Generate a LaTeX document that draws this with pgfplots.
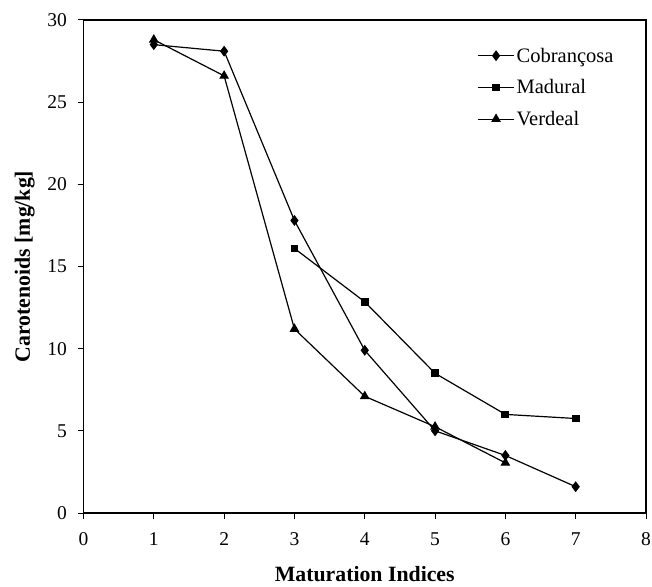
\documentclass[border=0pt]{standalone}
\usepackage{pgfplots}
\pgfplotsset{compat=1.18}
\usepackage{fontspec}
\setmainfont{Liberation Serif}

\begin{document}
\begin{tikzpicture}
\begin{axis}[
    name=main,
    scale only axis,
    width=562.5pt,
    height=493pt,
    xmin=0, xmax=8,
    ymin=0, ymax=30,
    xtick={0,1,...,8},
    ytick={0,5,...,30},
    tick align=outside,
    tick pos=left,
    major tick length=6pt,
    axis line style={line width=1.2pt},
    tick style={line width=1pt, black},
    every axis plot/.append style={line width=1.2pt, black},
    tick label style={font=\fontsize{19.5}{22}\selectfont},
    xticklabel style={yshift=-10pt},
    yticklabel style={xshift=-7pt},
    /pgf/number format/assume math mode=true,
    xlabel={\textbf{Maturation Indices}},
    ylabel={\textbf{Carotenoids [mg/kg]}},
    label style={font=\fontsize{21.8}{26}\selectfont},
    xlabel style={yshift=-14pt},
    ylabel style={yshift=6pt},
    legend style={draw=none, fill=none, at={(0.70,0.948)}, anchor=north west,
        font=\fontsize{20.5}{24}\selectfont, row sep=12pt, inner sep=0pt},
    legend cell align=left,
    legend image code/.code={
        \draw[mark repeat=2, mark phase=2] plot coordinates {(0pt,0pt) (18pt,0pt) (36pt,0pt)};
    },
]
\addplot[mark=diamond*, mark size=4.5pt, mark options={solid, fill=black}]
    coordinates {(1,28.5) (2,28.1) (3,17.8) (4,9.9) (5,5.0) (6,3.5) (7,1.6)};
\addlegendentry{Cobrançosa}
\addplot[mark=square*, mark size=3.3pt, mark options={solid, fill=black}]
    coordinates {(3,16.1) (4,12.85) (5,8.5) (6,6.0) (7,5.75)};
\addlegendentry{Madural}
\addplot[mark=triangle*, mark size=4.5pt, mark options={solid, fill=black}]
    coordinates {(1,28.8) (2,26.6) (3,11.2) (4,7.1) (5,5.25) (6,3.05)};
\addlegendentry{Verdeal}
\end{axis}
\pgfresetboundingbox
\path (main.south west) ++(-83.5pt,-73pt) rectangle ++(652pt,586pt);
\end{tikzpicture}
\end{document}
